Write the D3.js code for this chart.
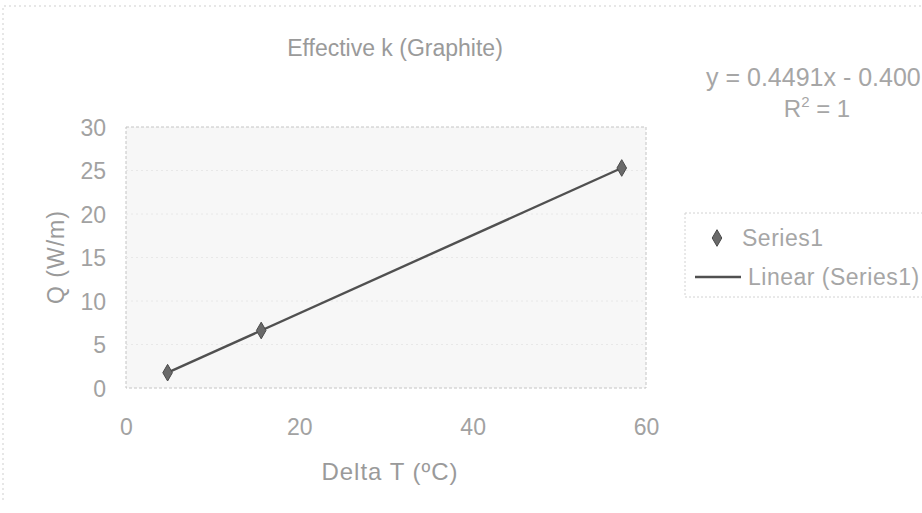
<!DOCTYPE html>
<html>
<head>
<meta charset="utf-8">
<script src="https://cdn.jsdelivr.net/npm/d3@7"></script>
<style>
  html, body { margin: 0; padding: 0; background: #ffffff; }
  svg { display: block; }
  text { font-family: "Liberation Sans", Arial, sans-serif; fill: #9c9c9c; }
</style>
</head>
<body>
<div id="chart"></div>
<script>
// ---- data ----
const deltaT = [4.8, 15.6, 57.2];          // Delta T (ºC)
const heatQ = [1.76, 6.61, 25.29];          // Q (W/m)
const xTicks = [0, 20, 40, 60];
const yTicks = [0, 5, 10, 15, 20, 25, 30];
const chartTitle = "Effective k (Graphite)";
const xTitle = "Delta T (ºC)";
const yTitle = "Q (W/m)";
const seriesName = "Series1";
const trendName = "Linear (Series1)";
const equationText = "y = 0.4491x - 0.400";

const W = 922, H = 513;
const plot = { left: 126, right: 646, top: 127, bottom: 388 };

const svg = d3.select("#chart").append("svg")
  .attr("width", W).attr("height", H);

// chart area border (faint)
svg.append("path")
  .attr("d", `M3,500 V6 H${W}`)
  .attr("fill", "none").attr("stroke", "#cfcfcf").attr("stroke-width", 1)
  .attr("stroke-dasharray", "2,3");

const x = d3.scaleLinear().domain([0, 60]).range([plot.left, plot.right]);
const y = d3.scaleLinear().domain([0, 30]).range([plot.bottom, plot.top]);

// plot area
svg.append("rect")
  .attr("x", plot.left).attr("y", plot.top)
  .attr("width", plot.right - plot.left).attr("height", plot.bottom - plot.top)
  .attr("fill", "#f7f7f7").attr("stroke", "#c4c4c4").attr("stroke-width", 1)
  .attr("stroke-dasharray", "3,2");

// horizontal gridlines
svg.append("g").selectAll("line")
  .data(yTicks.filter(d => d > 0 && d < 30))
  .join("line")
  .attr("x1", plot.left).attr("x2", plot.right)
  .attr("y1", d => y(d)).attr("y2", d => y(d))
  .attr("stroke", "#e8e8e8").attr("stroke-width", 1)
  .attr("stroke-dasharray", "2,3");

// axes (labels only, Excel style)
const xAxis = d3.axisBottom(x).tickValues(xTicks).tickSize(0).tickPadding(0);
const gx = svg.append("g").attr("transform", `translate(0,${plot.bottom})`).call(xAxis);
gx.select(".domain").remove();
gx.selectAll("text")
  .attr("y", 47).attr("dy", null)
  .style("font-size", "23px").style("fill", "#a2a2a2");

const yAxis = d3.axisLeft(y).tickValues(yTicks).tickSize(0).tickPadding(0);
const gy = svg.append("g").attr("transform", `translate(106,0)`).call(yAxis);
gy.select(".domain").remove();
gy.selectAll("text")
  .attr("x", 0).attr("dy", "0.36em")
  .style("font-size", "23px").style("fill", "#a2a2a2");

// titles
svg.append("text")
  .attr("x", 395).attr("y", 56)
  .attr("text-anchor", "middle")
  .style("font-size", "23px").style("fill", "#9a9a9a")
  .text(chartTitle);

svg.append("text")
  .attr("x", 390).attr("y", 480)
  .attr("text-anchor", "middle")
  .style("font-size", "24px").style("letter-spacing", "1px").style("fill", "#9a9a9a")
  .text(xTitle);

svg.append("text")
  .attr("transform", `translate(64,257) rotate(-90)`)
  .attr("text-anchor", "middle")
  .style("font-size", "23px").style("letter-spacing", "1px").style("fill", "#9a9a9a")
  .text(yTitle);

// linear trendline (least squares fit of the series)
const mx = d3.mean(deltaT), my = d3.mean(heatQ);
const slope = d3.sum(deltaT, (d, i) => (d - mx) * (heatQ[i] - my)) /
              d3.sum(deltaT, d => (d - mx) * (d - mx));
const intercept = my - slope * mx;
const xExt = d3.extent(deltaT);
svg.append("path")
  .datum(xExt)
  .attr("d", d3.line().x(d => x(d)).y(d => y(slope * d + intercept)))
  .attr("fill", "none").attr("stroke", "#505050").attr("stroke-width", 2.4);

// series markers
const diamond = d3.symbol().type(d3.symbolDiamond).size(80);
svg.append("g").selectAll("path")
  .data(deltaT.map((d, i) => [d, heatQ[i]]))
  .join("path")
  .attr("transform", d => `translate(${x(d[0])},${y(d[1])})`)
  .attr("d", diamond)
  .attr("fill", "#6a6a6a").attr("stroke", "#4a4a4a").attr("stroke-width", 1);

// equation and R²
svg.append("text")
  .attr("x", 706).attr("y", 86)
  .attr("text-anchor", "start")
  .style("font-size", "25px").style("fill", "#a6a6a6")
  .text(equationText);

const r2 = svg.append("text")
  .attr("x", 817).attr("y", 117)
  .attr("text-anchor", "middle")
  .style("font-size", "24px").style("fill", "#a6a6a6");
r2.append("tspan").text("R");
r2.append("tspan").attr("dy", -10).style("font-size", "15px").text("2");
r2.append("tspan").attr("dy", 10).text(" = 1");

// legend
const lg = svg.append("g");
lg.append("path")
  .attr("d", `M685,213 H${W} M685,297 H${W} M685,213 V297`)
  .attr("fill", "none").attr("stroke", "#d2d2d2").attr("stroke-width", 1)
  .attr("stroke-dasharray", "2,2");
lg.append("path")
  .attr("transform", "translate(717,238)")
  .attr("d", diamond)
  .attr("fill", "#6a6a6a").attr("stroke", "#4a4a4a");
lg.append("text")
  .attr("x", 742).attr("y", 246)
  .style("font-size", "23px").style("letter-spacing", "0.5px").style("fill", "#a6a6a6")
  .text(seriesName);
lg.append("line")
  .attr("x1", 695).attr("x2", 741).attr("y1", 277).attr("y2", 277)
  .attr("stroke", "#505050").attr("stroke-width", 2.4);
lg.append("text")
  .attr("x", 748).attr("y", 285)
  .style("font-size", "23px").style("letter-spacing", "0.5px").style("fill", "#a6a6a6")
  .text(trendName);
</script>
</body>
</html>
